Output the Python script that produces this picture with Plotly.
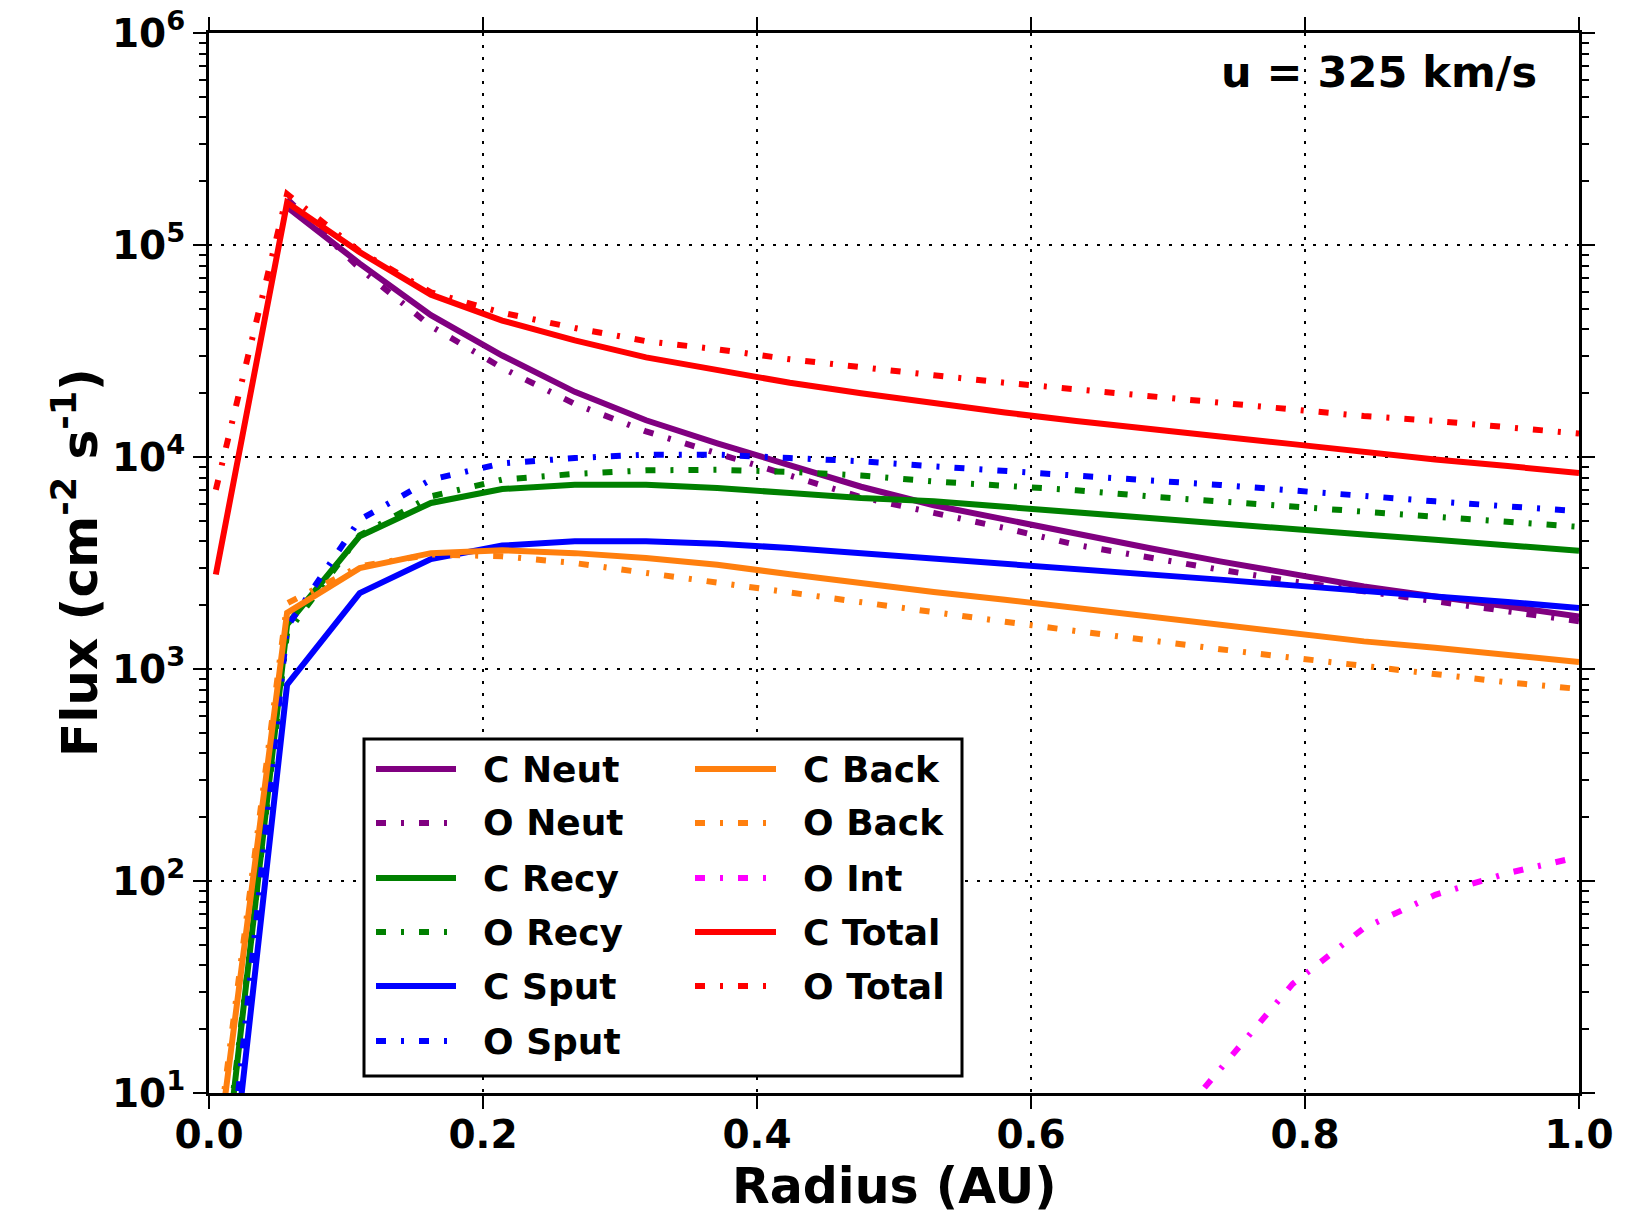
import plotly.graph_objects as go

# ---------------- data ----------------
radius = [0.005, 0.057, 0.110, 0.162, 0.214, 0.267, 0.319, 0.371, 0.424, 0.476,
          0.529, 0.581, 0.633, 0.686, 0.738, 0.791, 0.843, 0.895, 0.948, 1.0]

c_neut = [None, 1.51e5, 8.17e4, 4.67e4, 3.01e4, 2.03e4, 1.49e4, 1.16e4, 9120, 7240,
          5920, 5060, 4310, 3720, 3220, 2790, 2450, 2200, 1980, 1770]
o_neut = [None, 1.65e5, 7.76e4, 4.14e4, 2.63e4, 1.78e4, 1.32e4, 1.04e4, 8130, 6460,
          5450, 4620, 3850, 3340, 2940, 2590, 2320, 2080, 1870, 1680]
c_recy = [1.8, 1620, 4230, 6070, 7060, 7400, 7400, 7140, 6760, 6410,
          6180, 5810, 5480, 5150, 4890, 4590, 4310, 4070, 3830, 3610]
o_recy = [2.0, 1480, 4270, 6520, 7820, 8320, 8650, 8710, 8510, 8170,
          7670, 7350, 6970, 6520, 6180, 5850, 5510, 5210, 4930, 4680]
c_sput = [0.8, 843, 2280, 3300, 3820, 4000, 4000, 3900, 3720, 3520,
          3340, 3160, 2970, 2790, 2640, 2480, 2350, 2200, 2070, 1940]
o_sput = [1.0, 1580, 5060, 7820, 9330, 9890, 10260, 10260, 9890, 9550,
          9040, 8550, 8170, 7760, 7380, 6930, 6580, 6180, 5850, 5550]
c_back = [4.4, 1840, 2990, 3520, 3630, 3520, 3340, 3100, 2800, 2535,
          2310, 2120, 1940, 1770, 1620, 1480, 1350, 1260, 1160, 1080]
o_back = [5.0, 2040, 3050, 3470, 3400, 3160, 2840, 2550, 2280, 2050,
          1840, 1670, 1510, 1360, 1240, 1130, 1030, 940, 865, 805]
o_int = [None, None, None, None, None, None, None, None, None, None,
         None, None, None, 5.2, 13, 32.7, 60, 86, 109, 130]
c_total = [2790, 1.585e5, 9.25e4, 5.83e4, 4.40e4, 3.55e4, 2.95e4, 2.57e4, 2.24e4, 2.0e4,
           1.79e4, 1.62e4, 1.48e4, 1.35e4, 1.25e4, 1.15e4, 1.05e4, 9730, 9060, 8410]
o_total = [7010, 1.74e5, 9.33e4, 5.98e4, 4.79e4, 4.06e4, 3.52e4, 3.22e4, 2.89e4, 2.64e4,
           2.43e4, 2.24e4, 2.08e4, 1.94e4, 1.82e4, 1.68e4, 1.56e4, 1.48e4, 1.37e4, 1.29e4]

series_names = ["C Neut", "O Neut", "C Recy", "O Recy", "C Sput", "O Sput",
                "C Back", "O Back", "O Int", "C Total", "O Total"]
series_values = [c_neut, o_neut, c_recy, o_recy, c_sput, o_sput,
                 c_back, o_back, o_int, c_total, o_total]

x_tick_vals = [0.0, 0.2, 0.4, 0.6, 0.8, 1.0]
x_tick_text = ["0.0", "0.2", "0.4", "0.6", "0.8", "1.0"]
y_tick_vals = [10, 100, 1000, 10000, 100000, 1000000]
y_tick_text = ["10<sup>1</sup>", "10<sup>2</sup>", "10<sup>3</sup>",
               "10<sup>4</sup>", "10<sup>5</sup>", "10<sup>6</sup>"]

# ---------------- styles ----------------
COLORS = {"Neut": "#800080", "Recy": "#008000", "Sput": "#0000ff",
          "Back": "#ff7f0e", "Int": "#ff00ff", "Total": "#ff0000"}
DASHDOT = "10px,15px,3px,15px"
LW = 6
FONT = "DejaVu Sans"

# page is 1647x1226; the html body has an 8px margin, so the figure is 16px smaller
BODY = 8
W, H = 1647 - 2 * BODY, 1226 - 2 * BODY
# plot area in page pixel coordinates
PL, PR, PT, PB = 209, 1579, 33, 1093


def px_x(xf):
    return (xf - PL) / (PR - PL)


def px_y(yf):
    return (PB - yf) / (PB - PT)


def style_of(name):
    kind = name.split()[1]
    dash = "solid" if name.startswith("C") else DASHDOT
    return COLORS[kind], dash


fig = go.Figure()
for name, vals in zip(series_names, series_values):
    color, dash = style_of(name)
    fig.add_trace(go.Scatter(
        x=radius, y=vals, mode="lines", name=name, showlegend=False,
        line=dict(color=color, width=LW, dash=dash),
        connectgaps=False,
    ))

# ---------------- manual legend (matplotlib-like, 2 columns) ----------------
shapes = [dict(type="rect", xref="paper", yref="paper",
               x0=px_x(364), x1=px_x(962), y0=px_y(1076), y1=px_y(739),
               line=dict(color="black", width=3), fillcolor="white", layer="above")]
annotations = []
row_y = [769, 823, 878, 932, 986, 1041]
col_line = [(376, 456), (695, 776)]
col_text = [481, 801]
for i, name in enumerate(series_names):
    col = 0 if i < 6 else 1
    row = i if i < 6 else i - 6
    color, dash = style_of(name)
    x0, x1 = col_line[col]
    shapes.append(dict(type="line", xref="paper", yref="paper",
                       x0=px_x(x0), x1=px_x(x1), y0=px_y(row_y[row]), y1=px_y(row_y[row]),
                       line=dict(color=color, width=LW, dash=dash), layer="above"))
    annotations.append(dict(text=name, xref="paper", yref="paper",
                            x=px_x(col_text[col]), y=px_y(row_y[row]),
                            xanchor="left", yanchor="middle", showarrow=False,
                            font=dict(family=FONT, size=36, color="black", weight="bold")))

# velocity label
annotations.append(dict(text="u = 325 km/s", xref="paper", yref="paper",
                        x=px_x(1539), y=px_y(72), xanchor="right", yanchor="middle",
                        showarrow=False,
                        font=dict(family=FONT, size=43, color="black", weight="bold")))
# axis titles
annotations.append(dict(text="Radius (AU)", xref="paper", yref="paper",
                        x=px_x((PL + PR) / 2), y=px_y(1186), xanchor="center", yanchor="middle",
                        showarrow=False,
                        font=dict(family=FONT, size=49, color="black", weight="bold")))
annotations.append(dict(text="Flux (cm<sup>-2</sup> s<sup>-1</sup>)", xref="paper", yref="paper",
                        x=px_x(76), y=px_y((PT + PB) / 2), xanchor="center", yanchor="middle",
                        textangle=-90, showarrow=False,
                        font=dict(family=FONT, size=50, color="black", weight="bold")))

fig.update_layout(
    width=W, height=H,
    margin=dict(l=PL - BODY, r=(W + BODY) - PR, t=PT - BODY, b=(H + BODY) - PB,
                autoexpand=False),
    paper_bgcolor="white", plot_bgcolor="white",
    font=dict(family=FONT, color="black"),
    shapes=shapes, annotations=annotations,
    showlegend=False,
)
fig.update_xaxes(
    range=[0, 1], tickmode="array", tickvals=x_tick_vals, ticktext=x_tick_text,
    showline=True, linecolor="black", linewidth=3, mirror="ticks",
    ticks="outside", ticklen=13, tickwidth=2, tickcolor="black",
    tickfont=dict(family=FONT, size=39, color="black", weight="bold"),
    ticklabelstandoff=-8, ticklabeloverflow="allow",
    showgrid=True, gridcolor="black", gridwidth=2, griddash="3px,9px",
    zeroline=False,
)
fig.update_yaxes(
    type="log", range=[1, 6], tickmode="array", tickvals=y_tick_vals, ticktext=y_tick_text,
    showline=True, linecolor="black", linewidth=3, mirror="ticks",
    ticks="outside", ticklen=13, tickwidth=2, tickcolor="black",
    tickfont=dict(family=FONT, size=39, color="black", weight="bold"),
    ticklabeloverflow="allow",
    showgrid=True, gridcolor="black", gridwidth=2, griddash="3px,9px",
    minor=dict(dtick="D1", ticks="outside", ticklen=7, tickwidth=2, tickcolor="black",
               showgrid=False),
    zeroline=False,
)

fig.write_html("out.html")
